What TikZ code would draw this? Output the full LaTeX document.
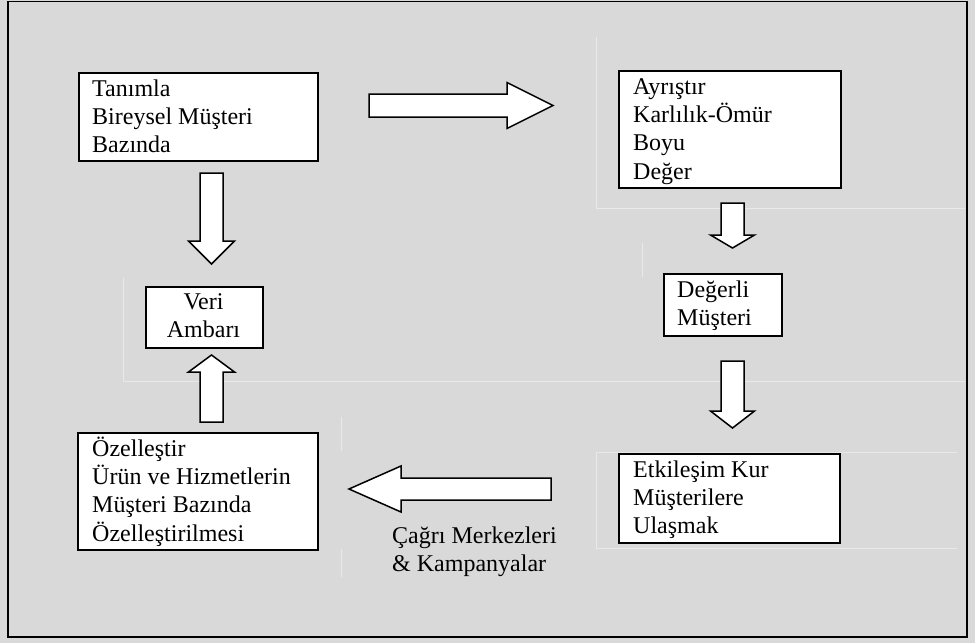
\documentclass[tikz,border=0pt]{standalone}
\usepackage{fontspec}
\setmainfont{Liberation Serif}
\usetikzlibrary{calc}
\definecolor{bg}{RGB}{217,217,217}
\definecolor{faint}{RGB}{233,233,233}
\tikzset{
  box/.style={draw=black, fill=white, line width=2pt, inner sep=0pt},
  txt/.style={inner sep=0pt, anchor=base west, font=\fontsize{24}{28.4}\selectfont},
  barrow/.style={draw=black, fill=white, line width=1.5pt, line join=miter},
  faintline/.style={draw=faint, line width=1pt}
}
\newcommand\blockarr[6]{%
  \draw[barrow, shift={(#1)}, rotate=#2]
    (0,-#5) -- ({#3-#4},-#5) -- ({#3-#4},-#6) -- (#3,0) --
    ({#3-#4},#6) -- ({#3-#4},#5) -- (0,#5) -- cycle;}
\newcommand\boxed[4]{% name, x1,y1, x2,y2 given as (a) (b)
}
\begin{document}
\begin{tikzpicture}[x=1pt,y=-1pt]
\useasboundingbox (0,0) rectangle (975,643);
\fill[bg] (0,0) rectangle (975,643);
\draw[black, line width=1.5pt] (8,1.5) rectangle (967,637);
% faint guide lines
\draw[faintline] (596,37) -- (596,208) -- (965,208);
\draw[faintline] (123,278) -- (123,381) -- (965,381);
\draw[faintline] (642,243) -- (642,277);
\draw[faintline] (341,417) -- (341,451);
\draw[faintline] (341,549) -- (341,577);
\draw[faintline] (957,452) -- (596,452) -- (596,548) -- (957,548);
% boxes
\node[box, anchor=north west, minimum width=239pt, minimum height=88pt] (n1) at (78,72) {};
\node[txt] (t1) at (92,96) {\begin{tabular}[t]{@{}l@{}}Tanımla\\Bireysel Müşteri\\Bazında\end{tabular}};
\node[box, anchor=north west, minimum width=222pt, minimum height=117pt] (n2) at (618,70) {};
\node[txt] (t2) at (633,94) {\begin{tabular}[t]{@{}l@{}}Ayrıştır\\Karlılık-Ömür\\Boyu\\Değer\end{tabular}};
\node[box, anchor=north west, minimum width=118pt, minimum height=62pt] (n3) at (663,273) {};
\node[txt] (t3) at (677,297) {\begin{tabular}[t]{@{}l@{}}Değerli\\Müşteri\end{tabular}};
\node[box, anchor=north west, minimum width=221pt, minimum height=89pt] (n4) at (618,453) {};
\node[txt] (t4) at (633,477) {\begin{tabular}[t]{@{}l@{}}Etkileşim Kur\\Müşterilere\\Ulaşmak\end{tabular}};
\node[box, anchor=north west, minimum width=240pt, minimum height=117pt] (n5) at (77,432) {};
\node[txt] (t5) at (92,456) {\begin{tabular}[t]{@{}l@{}}Özelleştir\\Ürün ve Hizmetlerin\\Müşteri Bazında\\Özelleştirilmesi\end{tabular}};
\node[box, anchor=north west, minimum width=117pt, minimum height=61pt] (n6) at (145,286) {};
\node[txt, anchor=base] (t6) at (203.5,309) {\begin{tabular}[t]{@{}c@{}}Veri\\Ambarı\end{tabular}};
\node[txt] (lbl) at (392,543) {\begin{tabular}[t]{@{}l@{}}Çağrı Merkezleri\\\& Kampanyalar\end{tabular}};
% block arrows (tail coordinates)
\coordinate (a1) at (211.5,173);
\coordinate (a2) at (211.5,422);
\coordinate (a3) at (369,105.5);
\coordinate (a4) at (732.5,203);
\coordinate (a5) at (732.5,361);
\coordinate (a6) at (551,489);
\blockarr{a1}{-90}{91}{23}{11.5}{23}
\blockarr{a2}{90}{67}{17}{11.5}{23}
\blockarr{a3}{0}{184}{46}{11.5}{23}
\blockarr{a4}{-90}{45}{13}{11.5}{22}
\blockarr{a5}{-90}{67}{17}{11.5}{22}
\blockarr{a6}{180}{202}{52}{11}{23}
\end{tikzpicture}
\end{document}
